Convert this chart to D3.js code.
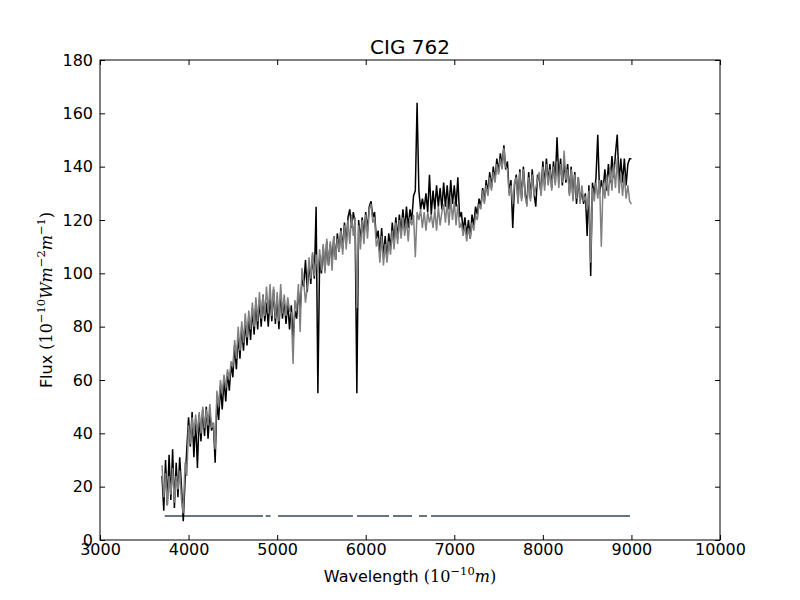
<!DOCTYPE html>
<html>
<head>
<meta charset="utf-8">
<script src="https://cdn.jsdelivr.net/npm/d3@7"></script>
<style>
  body { margin: 0; background: #fff; }
  svg { display: block; }
  text { font-family: "DejaVu Sans", sans-serif; }
</style>
</head>
<body>
<svg id="chart" width="800" height="600"></svg>
<script>
// ---- data ----
const titleText = "CIG 762";
const xTicks = [3000, 4000, 5000, 6000, 7000, 8000, 9000, 10000];
const yTicks = [0, 20, 40, 60, 80, 100, 120, 140, 160, 180];
const waveStart = 3700, waveEnd = 9000, waveStep = 20;

const blackFlux = [
  24, 11, 30, 13, 32, 15, 34, 12, 29, 16,
  31, 20, 7, 22, 34, 46, 35, 48, 31, 45,
  27, 47, 37, 49, 39, 50, 38, 48, 41, 44,
  29, 52, 45, 58, 49, 60, 52, 63, 56, 66,
  61, 73, 64, 77, 68, 80, 71, 82, 73, 84,
  75, 87, 77, 89, 79, 90, 80, 92, 82, 89,
  80, 92, 82, 94, 81, 91, 79, 93, 83, 90,
  81, 89, 79, 88, 75, 86, 83, 93, 86, 98,
  95, 105, 93, 104, 96, 107, 98, 125, 55, 106,
  100, 110, 101, 112, 103, 111, 104, 114, 105, 115,
  108, 117, 109, 119, 111, 121, 124, 117, 123, 119,
  55, 120, 112, 121, 114, 123, 116, 125, 127, 121,
  123, 113, 116, 107, 117, 106, 114, 105, 115, 109,
  119, 111, 121, 113, 122, 115, 124, 116, 125, 117,
  124, 120, 129, 131, 164, 131, 124, 128, 124, 130,
  123, 137, 122, 131, 124, 133, 125, 132, 124, 134,
  125, 133, 124, 135, 126, 133, 125, 136, 121, 123,
  116, 121, 114, 120, 113, 122, 118, 125, 122, 128,
  125, 132, 127, 135, 130, 138, 132, 140, 135, 143,
  138, 145, 140, 148, 139, 142, 130, 135, 117, 133,
  137, 127, 139, 128, 140, 130, 126, 138, 128, 139,
  130, 125, 137, 135, 130, 142, 133, 143, 134, 141,
  132, 142, 134, 151, 135, 143, 133, 142, 134, 141,
  130, 140, 128, 138, 126, 136, 127, 131, 126, 130,
  114, 133, 99, 134, 129, 136, 152, 130, 135, 131,
  139, 131, 141, 134, 144, 136, 145, 152, 134, 143,
  134, 143, 133, 141, 143, 143
];

const grayFlux = [
  28, 16, 25, 13, 24, 17, 27, 14, 24, 19,
  26, 15, 10, 29, 24, 43, 36, 46, 39, 47,
  40, 48, 40, 50, 42, 49, 43, 51, 42, 44,
  34, 56, 50, 60, 55, 62, 57, 64, 60, 67,
  65, 75, 68, 80, 71, 82, 74, 85, 76, 86,
  79, 89, 80, 91, 82, 93, 83, 92, 84, 95,
  85, 96, 84, 95, 83, 93, 82, 96, 85, 92,
  84, 91, 86, 85, 66, 90, 86, 96, 78, 102,
  97, 89, 95, 106, 98, 108, 99, 107, 100, 109,
  101, 111, 100, 113, 103, 112, 101, 114, 105, 113,
  108, 116, 107, 118, 109, 120, 111, 122, 114, 121,
  87, 118, 109, 120, 111, 122, 113, 124, 126, 119,
  121, 110, 113, 104, 114, 103, 111, 104, 112, 107,
  116, 109, 119, 111, 120, 113, 121, 114, 120, 112,
  121, 118, 122, 106, 123, 120, 124, 117, 123, 116,
  123, 119, 122, 117, 124, 116, 125, 118, 123, 126,
  119, 127, 118, 128, 120, 127, 118, 126, 117, 119,
  114, 118, 112, 117, 113, 119, 116, 122, 120, 126,
  124, 131, 126, 133, 129, 136, 131, 138, 134, 141,
  137, 143, 139, 147, 140, 139, 129, 133, 126, 134,
  136, 126, 138, 127, 139, 129, 125, 136, 127, 137,
  129, 132, 135, 138, 129, 140, 131, 141, 133, 139,
  131, 140, 133, 142, 132, 141, 134, 146, 135, 139,
  129, 139, 127, 137, 128, 136, 126, 133, 127, 129,
  124, 131, 104, 132, 127, 134, 128, 135, 110, 134,
  128, 137, 129, 139, 131, 141, 132, 143, 130, 138,
  129, 137, 128, 133, 127, 126
];

const maskLevel = 9;
const maskSegments = [
  [3730, 4840], [4871, 4926], [5010, 5856], [5901, 6263],
  [6308, 6523], [6602, 6692], [6737, 8984]
];

// ---- drawing ----
const svg = d3.select("#chart");
const L = 100, R = 720, T = 60, B = 540;
const x = d3.scaleLinear().domain([3000, 10000]).range([L, R]);
const y = d3.scaleLinear().domain([0, 180]).range([B, T]);
const waves = d3.range(waveStart, waveEnd + 1, waveStep);

svg.append("clipPath").attr("id", "clip")
  .append("rect").attr("x", L).attr("y", T).attr("width", R - L).attr("height", B - T);

const plot = svg.append("g").attr("clip-path", "url(#clip)");

plot.selectAll("line.mask").data(maskSegments).join("line")
  .attr("class", "mask")
  .attr("x1", d => x(d[0])).attr("x2", d => x(d[1]))
  .attr("y1", y(maskLevel)).attr("y2", y(maskLevel))
  .attr("stroke", "#66767e").attr("stroke-width", 2);

const line = d3.line().x(d => x(d[0])).y(d => y(d[1]));
const blackData = waves.map((w, i) => [w, blackFlux[i]]);
const grayData = waves.map((w, i) => [w, grayFlux[i]]);

plot.append("path").datum(blackData).attr("d", line)
  .attr("fill", "none").attr("stroke", "#000").attr("stroke-width", 1.5);
plot.append("path").datum(grayData).attr("d", line)
  .attr("fill", "none").attr("stroke", "#808080").attr("stroke-width", 1.5);

// axes
const fs = 16;
const gx = svg.append("g").attr("transform", `translate(0,${B})`)
  .call(d3.axisBottom(x).tickValues(xTicks).tickFormat(d3.format("d"))
    .tickSizeInner(-5).tickSizeOuter(0).tickPadding(4));
const gxt = svg.append("g").attr("transform", `translate(0,${T})`)
  .call(d3.axisTop(x).tickValues(xTicks).tickFormat("")
    .tickSizeInner(-5).tickSizeOuter(0));
const gy = svg.append("g").attr("transform", `translate(${L},0)`)
  .call(d3.axisLeft(y).tickValues(yTicks).tickFormat(d3.format("d"))
    .tickSizeInner(-5).tickSizeOuter(0).tickPadding(7));
const gyr = svg.append("g").attr("transform", `translate(${R},0)`)
  .call(d3.axisRight(y).tickValues(yTicks).tickFormat("")
    .tickSizeInner(-5).tickSizeOuter(0));

[gx, gxt, gy, gyr].forEach(g => {
  g.select(".domain").remove();
  g.selectAll(".tick line").attr("stroke", "#000").attr("stroke-width", 1);
  g.selectAll("text").attr("font-family", "DejaVu Sans").attr("font-size", fs).attr("fill", "#000");
});

svg.append("rect").attr("x", L).attr("y", T).attr("width", R - L).attr("height", B - T)
  .attr("fill", "none").attr("stroke", "#000").attr("stroke-width", 1);

// title
svg.append("text").attr("x", (L + R) / 2).attr("y", 54)
  .attr("text-anchor", "middle").attr("font-size", 20).text(titleText);

// helper for math-like labels
function mathLabel(t, parts) {
  parts.forEach(p => {
    const ts = t.append("tspan").text(p.t);
    ts.attr("font-family", p.serif ? "DejaVu Serif" : "DejaVu Sans");
    if (p.it) ts.attr("font-style", "italic");
    if (p.sup) ts.attr("font-size", 11.5).attr("dy", -7);
    if (p.down) ts.attr("dy", 7);
  });
}

const xl = svg.append("text").attr("x", 410).attr("y", 582)
  .attr("text-anchor", "middle").attr("font-size", fs);
mathLabel(xl, [
  { t: "Wavelength " },
  { t: "(10", serif: true },
  { t: "\u221210", serif: true, sup: true },
  { t: "m", serif: true, it: true, down: true },
  { t: ")", serif: true }
]);

const yl = svg.append("text").attr("transform", "translate(52,300) rotate(-90)")
  .attr("text-anchor", "middle").attr("font-size", fs);
mathLabel(yl, [
  { t: "Flux " },
  { t: "(10", serif: true },
  { t: "\u221210", serif: true, sup: true },
  { t: "Wm", serif: true, it: true, down: true },
  { t: "\u22122", serif: true, sup: true },
  { t: "m", serif: true, it: true, down: true },
  { t: "\u22121", serif: true, sup: true },
  { t: ")", serif: true, down: true }
]);
</script>
</body>
</html>
